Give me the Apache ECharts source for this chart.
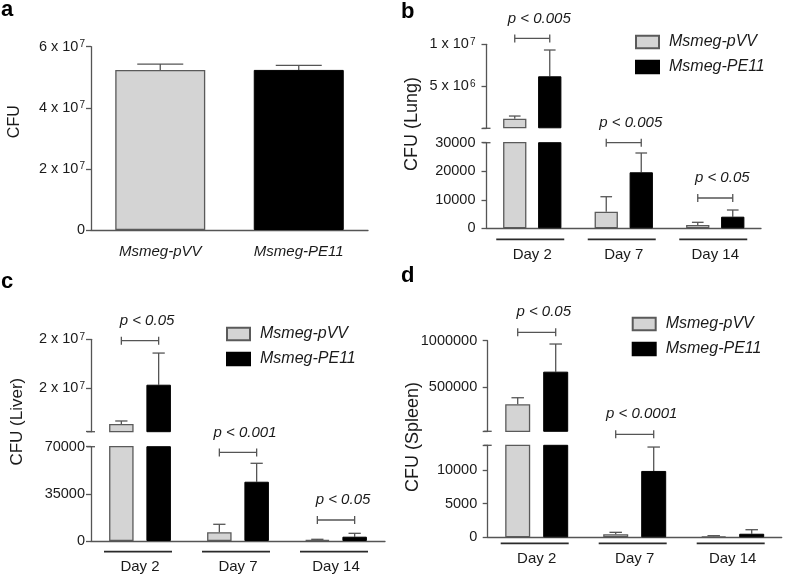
<!DOCTYPE html>
<html><head><meta charset="utf-8">
<script src="https://cdn.jsdelivr.net/npm/echarts@6/dist/echarts.min.js"></script>
<style>html,body{margin:0;padding:0;background:#fff}#c{width:787px;height:582px}</style>
</head><body><div id="c"></div>
<script>
// ---------------- DATA ----------------
const GROUP_NAMES = ['Msmeg-pVV', 'Msmeg-PE11'];
const DAYS = ['Day 2', 'Day 7', 'Day 14'];

// panel a (input CFU)
const inputCats = ['Msmeg-pVV', 'Msmeg-PE11'];
const inputMean = [5.24e7, 5.24e7];
const inputErrTop = [5.43e7, 5.39e7];
const inputTicks = [0, 2e7, 4e7, 6e7];
const inputTickLabels = ['0', '2 x 10^7', '4 x 10^7', '6 x 10^7'];

// panel b (lung)
const lungPVV = [1.14e6, 5820, 1160];
const lungPVVErr = [1.46e6, 11070, 2100];
const lungPE11 = [6.19e6, 19630, 4070];
const lungPE11Err = [9.32e6, 26390, 6410];
const lungLowTicks = [0, 10000, 20000, 30000];
const lungLowLabels = ['0', '10000', '20000', '30000'];
const lungUpTicks = [0, 5e6, 1e7];
const lungUpLabels = ['', '5 x 10^6', '1 x 10^7'];
const lungPText = ['p < 0.005', 'p < 0.005', 'p < 0.05'];
const lungPLevel = [1.07e7, 30000, 10620];

// panel c (liver)
const liverPVV = [1.138e7, 6460, 740];
const liverPVVErr = [1.169e7, 12400, 1260];
const liverPE11 = [1.538e7, 44000, 3200];
const liverPE11Err = [1.86e7, 57680, 5700];
const liverLowTicks = [0, 35000, 70000];
const liverLowLabels = ['0', '35000', '70000'];
const liverUpTicks = [1.06e7, 1.5e7, 2e7];
const liverUpLabels = ['', '2 x 10^7', '2 x 10^7'];
const liverPText = ['p < 0.05', 'p < 0.001', 'p < 0.05'];
const liverPLevel = [1.986e7, 65770, 15590];

// panel d (spleen)
const spleenPVV = [3.12e5, 450, 150];
const spleenPVVErr = [3.83e5, 740, 240];
const spleenPE11 = [6.65e5, 9880, 530];
const spleenPE11Err = [9.64e5, 13440, 1130];
const spleenLowTicks = [0, 5000, 10000, 13700];
const spleenLowLabels = ['0', '5000', '10000', ''];
const spleenUpTicks = [2e4, 5e5, 1e6];
const spleenUpLabels = ['', '500000', '1000000'];
const spleenPText = ['p < 0.05', 'p < 0.0001', ''];
const spleenPLevel = [1.091e6, 15340, 0];

// ---------------- STYLE ----------------
const FONT = '"Liberation Sans", Arial, Helvetica, sans-serif';
const GREY = '#d4d4d4', GREY_BORDER = '#5a5a5a', BLACK = '#000000';
const AX = '#555555', TXT = '#1a1a1a';

function toRich(label) {
  if (label === '') return '';
  if (label.indexOf('^') >= 0) {
    const p = label.split('^');
    return '{n|' + p[0] + '}{s|' + p[1] + '}';
  }
  return '{n|' + label + '}';
}
const richNum = {
  n: { fontSize: 14.5, color: TXT, fontFamily: FONT, lineHeight: 15 },
  s: { fontSize: 10, color: TXT, fontFamily: FONT, verticalAlign: 'top', lineHeight: 11, padding: [0, 0, 0, 1] }
};
function labelFormatter(ticks, labels) {
  return function (v) {
    for (let i = 0; i < ticks.length; i++) {
      if (Math.abs(ticks[i] - v) <= Math.abs(ticks[ticks.length - 1]) * 1e-6) return toRich(labels[i]);
    }
    return '';
  };
}

const option = {
  animation: false,
  backgroundColor: '#ffffff',
  title: [], grid: [], xAxis: [], yAxis: [], series: [], legend: [], graphic: []
};

function addGrid(left, top, width, height) {
  option.grid.push({ left: left, top: top, width: width, height: height, outerBoundsMode: 'none', containLabel: false });
  return option.grid.length - 1;
}
function addYAxis(gi, seg, margin) {
  option.yAxis.push({
    type: 'value', gridIndex: gi, min: seg.min, max: seg.max,
    axisLine: { show: true, lineStyle: { color: AX, width: 1.3 } },
    axisTick: { show: true, length: 5, lineStyle: { color: AX, width: 1.3 }, customValues: seg.ticks },
    axisLabel: {
      show: true, margin: margin,
      customValues: seg.ticks.filter((t, i) => seg.labels[i] !== ''),
      formatter: labelFormatter(seg.ticks, seg.labels), rich: richNum
    },
    splitLine: { show: false }
  });
  return option.yAxis.length - 1;
}
function addXAxis(gi, cats, show, labelCfg) {
  option.xAxis.push({
    type: 'category', gridIndex: gi, data: cats, show: show,
    axisLine: { show: true, onZero: false, lineStyle: { color: AX, width: 1.3 } },
    axisTick: { show: false },
    axisLabel: Object.assign({ color: TXT, fontFamily: FONT, interval: 0 }, labelCfg || {}),
    splitLine: { show: false }
  });
  return option.xAxis.length - 1;
}

function errorRender(barW, gapW) {
  return function (params, api) {
    const cat = api.value(0), mean = api.value(1), top = api.value(2), s = api.value(3);
    const p0 = api.coord([cat, mean]);
    const p1 = api.coord([cat, top]);
    const x = p0[0] + s * (barW + gapW) / 2;
    const cap = barW / 4;
    return {
      type: 'group', children: [
        { type: 'line', shape: { x1: x, y1: p0[1], x2: x, y2: p1[1] }, style: { stroke: AX, lineWidth: 1.3 } },
        { type: 'line', shape: { x1: x - cap, y1: p1[1], x2: x + cap, y2: p1[1] }, style: { stroke: AX, lineWidth: 1.3 } }
      ]
    };
  };
}
function bracketRender(barW, gapW, texts) {
  return function (params, api) {
    const cat = api.value(0), level = api.value(1);
    const p = api.coord([cat, level]);
    const half = (barW + gapW) / 2;
    return {
      type: 'group', children: [
        { type: 'line', shape: { x1: p[0] - half, y1: p[1], x2: p[0] + half, y2: p[1] }, style: { stroke: AX, lineWidth: 1.3 } },
        { type: 'line', shape: { x1: p[0] - half, y1: p[1] - 4, x2: p[0] - half, y2: p[1] + 4 }, style: { stroke: AX, lineWidth: 1.3 } },
        { type: 'line', shape: { x1: p[0] + half, y1: p[1] - 4, x2: p[0] + half, y2: p[1] + 4 }, style: { stroke: AX, lineWidth: 1.3 } },
        { type: 'text', x: p[0] + 7, y: p[1] - 20, style: { text: texts[cat], fontSize: 15, fontStyle: 'italic', fontFamily: FONT, fill: TXT, align: 'center', verticalAlign: 'middle' } }
      ]
    };
  };
}
function underlineRender(offset, leftExt, rightExt) {
  return function (params, api) {
    const p = api.coord([api.value(0), api.value(1)]);
    const y = p[1] + offset;
    return { type: 'line', shape: { x1: p[0] - leftExt, y1: y, x2: p[0] + rightExt, y2: y }, style: { stroke: '#2a2a2a', lineWidth: 1.7 } };
  };
}
// small horizontal caps at the ends of a broken y-axis
function breakCapRender(halfLen) {
  return function (params, api) {
    const p = api.coord([0, api.value(1)]);
    const x = params.coordSys.x;
    return { type: 'line', shape: { x1: x - halfLen, y1: p[1], x2: x + halfLen, y2: p[1] }, style: { stroke: AX, lineWidth: 1.3 } };
  };
}

// ---------- panel a ----------
(function () {
  const gi = addGrid(91, 46.7, 277, 183.3);
  const xi = addXAxis(gi, inputCats, true, { fontSize: 15, fontStyle: 'italic', margin: 14 });
  const yi = addYAxis(gi, { min: 0, max: 6e7, ticks: inputTicks, labels: inputTickLabels }, 6);
  option.series.push({
    type: 'bar', xAxisIndex: xi, yAxisIndex: yi, barWidth: 90, silent: true,
    data: inputMean.map((v, i) => ({
      value: v,
      itemStyle: i === 0 ? { color: GREY, borderColor: GREY_BORDER, borderWidth: 1.3 } : { color: BLACK, borderColor: BLACK, borderWidth: 1 }
    }))
  });
  option.series.push({
    type: 'custom', xAxisIndex: xi, yAxisIndex: yi, silent: true, clip: false,
    encode: { x: 0, y: [1, 2] },
    renderItem: function (params, api) {
      const cat = api.value(0), mean = api.value(1), top = api.value(2);
      const p0 = api.coord([cat, mean]), p1 = api.coord([cat, top]);
      const cap = 23;
      return {
        type: 'group', children: [
          { type: 'line', shape: { x1: p0[0], y1: p0[1], x2: p0[0], y2: p1[1] }, style: { stroke: AX, lineWidth: 1.3 } },
          { type: 'line', shape: { x1: p0[0] - cap, y1: p1[1], x2: p0[0] + cap, y2: p1[1] }, style: { stroke: AX, lineWidth: 1.3 } }
        ]
      };
    },
    data: inputMean.map((v, i) => [i, v, inputErrTop[i]])
  });
})();

// ---------- panels b, c, d ----------
function buildPanel(cfg) {
  const segs = [
    { name: 'low', seg: cfg.low, top: cfg.low.top, height: cfg.low.height },
    { name: 'up', seg: cfg.up, top: cfg.up.top, height: cfg.up.height }
  ];
  const refs = {};
  segs.forEach(function (s) {
    const gi = addGrid(cfg.left, s.top, cfg.width, s.height);
    const isLow = s.name === 'low';
    const xi = addXAxis(gi, DAYS, isLow, { fontSize: 15, margin: cfg.dayMargin });
    const yi = addYAxis(gi, s.seg, cfg.labelMargin);
    refs[s.name] = { xi: xi, yi: yi, seg: s.seg };
    // a value belongs to the upper segment only if it exceeds the lower segment's range
    const inSeg = isLow ? (v => v < cfg.low.max) : (v => v > cfg.low.max);
    [[cfg.pvv, GREY, GREY_BORDER, 1.3, 0], [cfg.pe11, BLACK, BLACK, 1, 1]].forEach(function (b) {
      option.series.push({
        type: 'bar', name: GROUP_NAMES[b[4]], xAxisIndex: xi, yAxisIndex: yi, silent: true, clip: true,
        barWidth: cfg.barW, barGap: (cfg.gapW / cfg.barW * 100) + '%',
        itemStyle: { color: b[1], borderColor: b[2], borderWidth: b[3] },
        data: b[0].map(v => (isLow || v > cfg.low.max) ? v : '-')
      });
    });
    const errData = [];
    [[cfg.pvv, cfg.pvvErr, -1], [cfg.pe11, cfg.pe11Err, 1]].forEach(function (e) {
      e[0].forEach(function (v, i) { if (inSeg(v)) errData.push([i, v, e[1][i], e[2]]); });
    });
    option.series.push({
      type: 'custom', xAxisIndex: xi, yAxisIndex: yi, silent: true, clip: false,
      encode: { x: 0, y: [1, 2] }, renderItem: errorRender(cfg.barW, cfg.gapW), data: errData
    });
    // break caps: bottom end of upper axis, top end of lower axis
    option.series.push({
      type: 'custom', xAxisIndex: xi, yAxisIndex: yi, silent: true, clip: false,
      encode: { x: 0, y: 1 }, renderItem: breakCapRender(4),
      data: [[0, isLow ? s.seg.max : s.seg.min]]
    });
  });
  // brackets
  const upBr = [], lowBr = [];
  cfg.pText.forEach(function (t, i) {
    if (t === '') return;
    (i === 0 ? upBr : lowBr).push([i, cfg.pLevel[i]]);
  });
  [['up', upBr], ['low', lowBr]].forEach(function (b) {
    option.series.push({
      type: 'custom', xAxisIndex: refs[b[0]].xi, yAxisIndex: refs[b[0]].yi, silent: true, clip: false,
      encode: { x: 0, y: 1 }, renderItem: bracketRender(cfg.barW, cfg.gapW, cfg.pText), data: b[1]
    });
  });
  // underlines
  option.series.push({
    type: 'custom', xAxisIndex: refs.low.xi, yAxisIndex: refs.low.yi, silent: true, clip: false,
    encode: { x: 0, y: 1 }, renderItem: underlineRender(cfg.underOffset, 36, 32),
    data: DAYS.map((d, i) => [i, cfg.low.min])
  });
  // legend
  option.legend.push({
    left: cfg.legendLeft, top: cfg.legendTop, orient: 'vertical', selectedMode: false,
    itemWidth: 23, itemHeight: 12.5, itemGap: 9, icon: 'rect',
    data: GROUP_NAMES.map(n => ({ name: n, icon: 'rect' })),
    textStyle: { fontSize: 16, fontStyle: 'italic', color: TXT, fontFamily: FONT, lineHeight: 16, padding: [0, 0, 0, 5] }
  });
}

buildPanel({
  left: 486.5, width: 274.5, barW: 23.3, gapW: 11.7, labelMargin: 11, dayMargin: 19, underOffset: 11,
  low: { top: 142.7, height: 85.6, min: 0, max: 30000, ticks: lungLowTicks, labels: lungLowLabels },
  up: { top: 44.3, height: 84, min: 0, max: 1e7, ticks: lungUpTicks, labels: lungUpLabels },
  pvv: lungPVV, pvvErr: lungPVVErr, pe11: lungPE11, pe11Err: lungPE11Err,
  pText: lungPText, pLevel: lungPLevel, legendLeft: 630, legendTop: 29
});
buildPanel({
  left: 91, width: 294, barW: 24.5, gapW: 12.8, labelMargin: 6, dayMargin: 18, underOffset: 10.7,
  low: { top: 446.7, height: 94.3, min: 0, max: 70000, ticks: liverLowTicks, labels: liverLowLabels },
  up: { top: 339.3, height: 92.4, min: 1.06e7, max: 2e7, ticks: liverUpTicks, labels: liverUpLabels },
  pvv: liverPVV, pvvErr: liverPVVErr, pe11: liverPE11, pe11Err: liverPE11Err,
  pText: liverPText, pLevel: liverPLevel, legendLeft: 221, legendTop: 321
});
buildPanel({
  left: 487.7, width: 294, barW: 25, gapW: 13, labelMargin: 10.5, dayMargin: 14, underOffset: 6,
  low: { top: 445.3, height: 92, min: 0, max: 13700, ticks: spleenLowTicks, labels: spleenLowLabels },
  up: { top: 340.7, height: 90.6, min: 2e4, max: 1e6, ticks: spleenUpTicks, labels: spleenUpLabels },
  pvv: spleenPVV, pvvErr: spleenPVVErr, pe11: spleenPE11, pe11Err: spleenPE11Err,
  pText: spleenPText, pLevel: spleenPLevel, legendLeft: 626.7, legendTop: 311
});

// panel letters
[['a', 1, -1], ['b', 401, 1], ['c', 1, 271], ['d', 401, 265]].forEach(function (t) {
  option.title.push({ text: t[0], left: t[1], top: t[2], padding: 0,
    textStyle: { fontSize: 22, fontWeight: 'bold', color: '#000', fontFamily: FONT, lineHeight: 22 } });
});
// y-axis titles
[['CFU', 15, 121.7, 16], ['CFU (Lung)', 412, 124, 18], ['CFU (Liver)', 17, 421.7, 17], ['CFU (Spleen)', 413, 437, 18]].forEach(function (t) {
  option.graphic.push({ type: 'text', x: t[1], y: t[2], rotation: Math.PI / 2, silent: true,
    style: { text: t[0], fontSize: t[3], fontFamily: FONT, fill: TXT, align: 'center', verticalAlign: 'middle' } });
});

const chart = echarts.init(document.getElementById('c'), null, { renderer: 'canvas' });
chart.setOption(option);
</script></body></html>
